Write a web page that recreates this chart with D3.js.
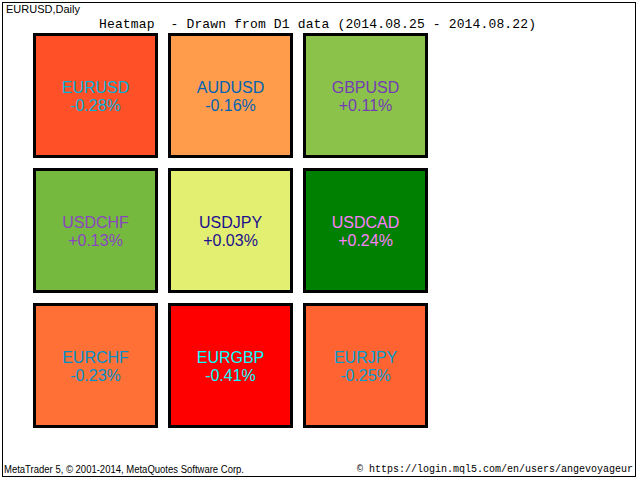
<!DOCTYPE html>
<html>
<head>
<meta charset="utf-8">
<script src="https://cdn.jsdelivr.net/npm/d3@7"></script>
<style>
  html, body { margin: 0; padding: 0; background: #fff; }
  svg { display: block; }
</style>
</head>
<body>
<script>
// chart values
var pairs = ['EURUSD', 'AUDUSD', 'GBPUSD', 'USDCHF', 'USDJPY', 'USDCAD', 'EURCHF', 'EURGBP', 'EURJPY'];
var changes = [-0.28, -0.16, 0.11, 0.13, 0.03, 0.24, -0.23, -0.41, -0.25];
var symbolTitle = 'EURUSD,Daily';
var heatTitle = 'Heatmap  - Drawn from D1 data (2014.08.25 - 2014.08.22)';
var footLeft = 'MetaTrader 5, \u00a9 2001-2014, MetaQuotes Software Corp.';
var footRight = '\u00a9 https://login.mql5.com/en/users/angevoyageur';

var width = 640, height = 480, cols = 3;

var svg = d3.select('body').append('svg')
  .attr('width', width)
  .attr('height', height);

// window frame
svg.append('rect')
  .attr('x', 2.5).attr('y', 2.5)
  .attr('width', 633).attr('height', 474)
  .attr('fill', '#fff')
  .attr('stroke', '#000')
  .attr('stroke-width', 1);

svg.append('text')
  .attr('x', 6).attr('y', 13)
  .attr('font-family', 'Liberation Sans, Arial, sans-serif')
  .attr('font-size', 11)
  .text(symbolTitle);

svg.append('text')
  .attr('x', 99).attr('y', 28)
  .attr('font-family', 'Liberation Mono, Courier New, monospace')
  .attr('font-size', 13)
  .attr('textLength', 437)
  .attr('xml:space', 'preserve')
  .style('white-space', 'pre')
  .text(heatTitle);

var idx = d3.range(cols);
var x = d3.scaleBand().domain(idx).range([33, 428]).paddingInner(10 / 135);
var y = d3.scaleBand().domain(idx).range([33, 428]).paddingInner(10 / 135);

var color = d3.scaleLinear()
  .domain([-0.41, -0.28, -0.16, 0.03, 0.11, 0.24])
  .range(['#ff0000', '#ff5028', '#ff9c4c', '#e2ef70', '#8bc34a', '#008000']);

var fmt = d3.formatLocale({
  decimal: '.', thousands: ',', grouping: [3], currency: ['', ''], minus: '-'
}).format('+.2f');

function invert(c) {
  var r = d3.rgb(c);
  return d3.rgb(255 - r.r, 255 - r.g, 255 - r.b).formatHex();
}

var cells = svg.selectAll('g.cell')
  .data(pairs.map(function(p, i) { return { pair: p, value: changes[i], i: i }; }))
  .enter().append('g')
  .attr('class', 'cell')
  .attr('transform', function(d) {
    return 'translate(' + x(d.i % cols) + ',' + y(Math.floor(d.i / cols)) + ')';
  });

cells.append('rect')
  .attr('x', 1.5).attr('y', 1.5)
  .attr('width', x.bandwidth() - 3)
  .attr('height', y.bandwidth() - 3)
  .attr('fill', function(d) { return color(d.value); })
  .attr('stroke', '#000')
  .attr('stroke-width', 3);

cells.append('text')
  .attr('x', x.bandwidth() / 2)
  .attr('y', y.bandwidth() / 2 - 3)
  .attr('text-anchor', 'middle')
  .attr('font-family', 'Liberation Sans, Arial, sans-serif')
  .attr('font-size', 16)
  .attr('fill', function(d) { return invert(color(d.value)); })
  .text(function(d) { return d.pair; });

cells.append('text')
  .attr('x', x.bandwidth() / 2)
  .attr('y', y.bandwidth() / 2 + 15)
  .attr('text-anchor', 'middle')
  .attr('font-family', 'Liberation Sans, Arial, sans-serif')
  .attr('font-size', 16)
  .attr('fill', function(d) { return invert(color(d.value)); })
  .text(function(d) { return fmt(d.value) + '%'; });

svg.append('text')
  .attr('x', 4).attr('y', 473)
  .attr('font-family', 'Liberation Sans, Arial, sans-serif')
  .attr('font-size', 10)
  .attr('textLength', 240)
  .attr('lengthAdjust', 'spacingAndGlyphs')
  .text(footLeft);

svg.append('text')
  .attr('x', 633).attr('y', 472)
  .attr('text-anchor', 'end')
  .attr('font-family', 'Liberation Mono, Courier New, monospace')
  .attr('font-size', 10)
  .text(footRight);
</script>
</body>
</html>
